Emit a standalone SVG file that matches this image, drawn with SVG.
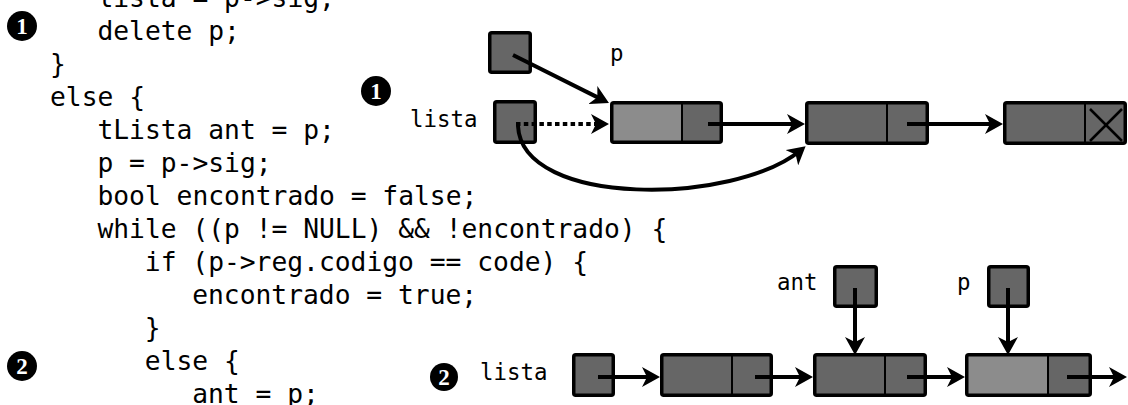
<svg xmlns="http://www.w3.org/2000/svg" width="1128" height="405" viewBox="0 0 1128 405">
<style>
.code{font-family:"DejaVu Sans Mono","Liberation Mono",monospace;font-size:26.3px;fill:#000}
.lbl{font-family:"DejaVu Sans Mono","Liberation Mono",monospace;font-size:22.4px;fill:#000}
.num{font-family:"Liberation Serif",serif;font-weight:bold;font-size:23px;fill:#fff;text-anchor:middle}
.dk{fill:#666}
.lt{fill:#8c8c8c}
.box{fill:none;stroke:#000;stroke-width:3.5;stroke-linejoin:round}
.div{stroke:#000;stroke-width:2}
.ptr{fill:#666;stroke:#000;stroke-width:3.5;stroke-linejoin:round}
.arr{fill:none;stroke:#000;stroke-width:4;marker-end:url(#ah)}
.dot{fill:none;stroke:#000;stroke-width:4;stroke-dasharray:4.5 3.3;marker-end:url(#ah)}
.x{stroke:#000;stroke-width:2.5}
</style>
<defs>
<marker id="ah" viewBox="0 0 18 20" markerUnits="userSpaceOnUse" markerWidth="18" markerHeight="20" refX="12" refY="10" orient="auto">
<path d="M0,0 L18,10 L0,20 L5,10 Z" fill="#000"/>
</marker>
</defs>

<g id="code">
<text class="code" x="97.4" y="7">lista = p-&gt;sig;</text>
<text class="code" x="97.4" y="40">delete p;</text>
<text class="code" x="50" y="73">}</text>
<text class="code" x="50" y="106">else {</text>
<text class="code" x="97.4" y="139">tLista ant = p;</text>
<text class="code" x="97.4" y="172">p = p-&gt;sig;</text>
<text class="code" x="97.4" y="205">bool encontrado = false;</text>
<text class="code" x="97.4" y="238">while ((p != NULL) &amp;&amp; !encontrado) {</text>
<text class="code" x="144.8" y="271">if (p-&gt;reg.codigo == code) {</text>
<text class="code" x="192.2" y="304">encontrado = true;</text>
<text class="code" x="144.8" y="337">}</text>
<text class="code" x="144.8" y="370">else {</text>
<text class="code" x="192.2" y="403">ant = p;</text>
</g>

<g id="mark1a"><circle cx="22" cy="26" r="15" fill="#000"/><text class="num" x="22" y="34">1</text></g>
<g id="mark2a"><circle cx="22" cy="366" r="15" fill="#000"/><text class="num" x="22" y="374">2</text></g>
<g id="mark1b"><circle cx="376" cy="91" r="15" fill="#000"/><text class="num" x="376" y="99">1</text></g>
<g id="mark2b"><circle cx="444" cy="377" r="14" fill="#000"/><text class="num" x="444" y="385">2</text></g>

<!-- Diagram 1 -->
<g id="d1-p">
<rect class="ptr" x="489.75" y="32.75" width="40.5" height="39.5" rx="2"/>
<text class="lbl" x="610" y="61">p</text>
</g>
<g id="d1-lista">
<text class="lbl" x="410" y="127">lista</text>
<rect class="ptr" x="494.75" y="101.75" width="40.5" height="40.5" rx="2"/>
</g>
<g id="d1-node1">
<rect class="lt" x="611.75" y="102.75" width="70.25" height="39.5"/>
<rect class="dk" x="682" y="102.75" width="39.25" height="39.5"/>
<rect class="box" x="611.75" y="102.75" width="109.5" height="39.5" rx="2"/>
<line class="div" x1="682" y1="102.75" x2="682" y2="142.25"/>
</g>
<g id="d1-node2">
<rect class="dk" x="806.75" y="102.75" width="120.5" height="40.5"/>
<rect class="box" x="806.75" y="102.75" width="120.5" height="40.5" rx="2"/>
<line class="div" x1="887" y1="102.75" x2="887" y2="143.25"/>
</g>
<g id="d1-node3">
<rect class="dk" x="1004.75" y="102.75" width="120.5" height="40.5"/>
<rect class="box" x="1004.75" y="102.75" width="120.5" height="40.5" rx="2"/>
<line class="div" x1="1085" y1="102.75" x2="1085" y2="143.25"/>
<line class="x" x1="1090" y1="109" x2="1122" y2="141"/>
<line class="x" x1="1122" y1="109" x2="1090" y2="141"/>
</g>

<!-- Diagram 2 -->
<g id="d2-lista">
<text class="lbl" x="480" y="380">lista</text>
<rect class="ptr" x="573.75" y="354.75" width="39.5" height="40.5" rx="2"/>
</g>
<g id="d2-node1">
<rect class="dk" x="661.75" y="354.75" width="109.5" height="40.5"/>
<rect class="box" x="661.75" y="354.75" width="109.5" height="40.5" rx="2"/>
<line class="div" x1="732" y1="354.75" x2="732" y2="395.25"/>
</g>
<g id="d2-node2">
<rect class="dk" x="814.75" y="354.75" width="110.5" height="40.5"/>
<rect class="box" x="814.75" y="354.75" width="110.5" height="40.5" rx="2"/>
<line class="div" x1="885" y1="354.75" x2="885" y2="395.25"/>
</g>
<g id="d2-node3">
<rect class="lt" x="966.75" y="354.75" width="81.25" height="40.5"/>
<rect class="dk" x="1048" y="354.75" width="42.25" height="40.5"/>
<rect class="box" x="966.75" y="354.75" width="123.5" height="40.5" rx="2"/>
<line class="div" x1="1048" y1="354.75" x2="1048" y2="395.25"/>
</g>
<g id="d2-ant">
<text class="lbl" x="777" y="290">ant</text>
<rect class="ptr" x="834.75" y="266.75" width="41.5" height="39.5" rx="2"/>
</g>
<g id="d2-p">
<text class="lbl" x="957" y="290">p</text>
<rect class="ptr" x="988.75" y="266.75" width="39.5" height="39.5" rx="2"/>
</g>

<g id="connectors">
<path class="arr" d="M513,55 L603.6,100.4"/>
<path class="dot" d="M516,124 L603,124"/>
<path class="arr" d="M708,124 L799,124"/>
<path class="arr" d="M907,124 L997,124"/>
<path class="arr" d="M518,126 C522,208 735,205 801,150"/>
<path class="arr" d="M598,377 L654,377"/>
<path class="arr" d="M755,377 L807,377"/>
<path class="arr" d="M907,377 L959,377"/>
<path class="arr" d="M1067,377 L1121,377"/>
<path class="arr" d="M855,288 L855,349"/>
<path class="arr" d="M1008,288 L1008,349"/>
</g>
</svg>
